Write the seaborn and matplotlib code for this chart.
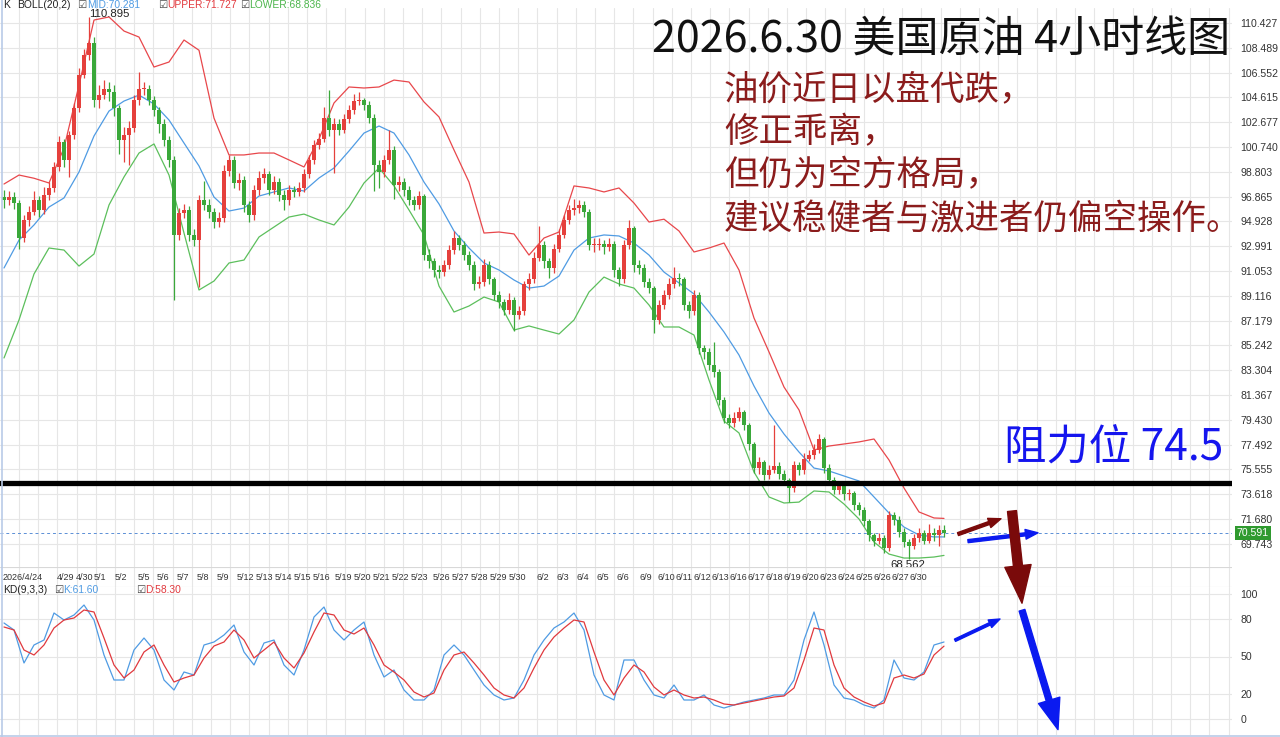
import numpy as np
import pandas as pd
import matplotlib
matplotlib.use("Agg")
import matplotlib.pyplot as plt
from matplotlib.patches import FancyArrowPatch, ArrowStyle
from matplotlib.lines import Line2D
import seaborn as sns

# ---------------- data ----------------
first_open = 96.8
closes = [
    96.6, 96.8, 96.4, 93.6, 95.0, 95.7, 96.6, 95.8, 97.0, 97.5,
    99.2, 101.1, 99.7, 101.7, 103.8, 106.4, 107.9, 108.9, 104.4, 104.8,
    105.3, 105.0, 103.8, 101.3, 101.7, 102.2, 104.4, 105.3, 105.3, 104.4,
    103.6, 102.5, 101.3, 99.7, 93.9, 95.6, 95.8, 93.9, 93.5, 96.6,
    96.2, 95.7, 94.9, 95.2, 98.9, 99.7, 97.9, 98.2, 96.2, 95.4,
    97.4, 98.3, 98.6, 97.4, 98.0, 97.0, 96.6, 97.4, 97.2, 97.5,
    98.6, 99.7, 100.9, 101.4, 103.0, 102.1, 102.5, 102.1, 102.9, 103.6,
    104.3, 104.4, 104.0, 103.0, 99.3, 98.8, 99.7, 100.5, 97.8, 98.0,
    97.4, 96.6, 96.2, 96.9, 92.3, 91.8, 91.1, 91.0, 91.5, 92.7,
    93.6, 93.1, 92.3, 91.5, 90.0, 90.2, 91.5, 90.4, 89.2, 88.6,
    88.0, 88.8, 87.6, 87.9, 90.0, 90.4, 92.1, 93.1, 91.8, 91.3,
    92.8, 93.9, 95.0, 95.8, 96.0, 96.2, 95.7, 93.1, 93.1, 93.2,
    92.9, 93.2, 91.1, 90.4, 93.1, 94.4, 91.5, 91.3, 90.2, 89.7,
    87.2, 88.4, 89.2, 90.0, 90.5, 90.4, 88.4, 87.9, 89.2, 85.0,
    84.7, 83.7, 83.2, 81.0, 79.6, 79.2, 79.6, 80.0, 79.0, 77.5,
    75.7, 76.1, 75.1, 75.5, 75.8, 75.2, 74.7, 74.1, 75.9, 75.5,
    76.4, 76.7, 77.1, 77.9, 75.7, 74.7, 73.95, 74.3, 73.6, 73.7,
    72.8, 72.4, 71.5, 70.4, 70.0, 70.2, 69.4, 72.0, 71.6, 70.7,
    69.9, 69.6, 70.2, 70.6, 70.0, 70.6, 70.4, 70.8, 70.591,
]
highs = [
    97.4, 97.3, 97.2, 96.6, 95.4, 96.1, 97.3, 96.9, 97.6, 98.0,
    99.6, 101.6, 101.4, 102.0, 104.2, 106.9, 108.4, 110.895, 109.3, 105.6,
    106.0, 105.8, 105.6, 104.0, 102.3, 102.8, 104.8, 106.6, 105.8, 105.6,
    104.7, 103.9, 102.9, 101.6, 100.0, 96.0, 96.3, 96.1, 94.3, 97.0,
    98.1, 96.7, 96.0, 95.7, 99.3, 100.1, 100.0, 98.7, 98.5, 96.5,
    97.8, 98.9, 99.1, 98.9, 98.5, 98.3, 97.4, 97.8, 97.7, 98.0,
    99.0, 100.1, 101.3, 101.8, 103.9, 105.2, 103.0, 102.9, 103.3, 104.0,
    104.9, 105.0, 104.6, 104.3, 103.3, 99.7, 100.1, 102.1, 100.8, 98.5,
    98.3, 97.7, 96.9, 97.3, 97.1, 92.8, 92.1, 91.5, 91.9, 93.1,
    94.2, 93.9, 93.4, 92.6, 91.8, 90.7, 92.0, 91.8, 90.6, 89.5,
    88.9, 89.3, 89.0, 88.3, 90.3, 90.9, 92.5, 94.6, 93.4, 92.1,
    93.2, 94.3, 95.4, 96.2, 96.7, 96.6, 96.5, 95.9, 93.6, 93.6,
    93.5, 93.6, 93.4, 91.4, 93.5, 95.0, 94.6, 91.9, 91.6, 90.5,
    89.9, 88.8, 89.6, 90.5, 91.4, 90.9, 90.6, 88.7, 89.6, 89.4,
    85.3, 85.0, 85.5, 83.4, 81.2, 79.9, 80.0, 80.4, 80.2, 79.2,
    77.7, 76.5, 76.3, 75.9, 79.0, 76.1, 75.5, 74.9, 76.2, 76.1,
    76.8, 77.1, 77.5, 78.3, 78.1, 76.0, 75.0, 74.6, 74.5, 74.0,
    73.9, 73.0, 72.6, 71.7, 70.6, 70.6, 70.4, 72.3, 72.2, 71.9,
    71.0, 70.1, 70.5, 71.0, 70.8, 71.3, 71.0, 71.2, 71.2,
]
lows = [
    96.0, 96.2, 95.9, 92.8, 93.3, 94.6, 95.4, 95.3, 95.5, 96.6,
    97.2, 98.9, 99.2, 98.4, 101.4, 103.5, 106.1, 107.5, 103.9, 103.8,
    104.5, 104.3, 103.2, 100.2, 99.6, 99.3, 101.9, 104.0, 104.8, 104.0,
    103.2, 101.8, 100.8, 99.2, 88.8, 93.5, 95.2, 93.4, 93.0, 89.8,
    95.8, 95.2, 94.4, 94.5, 94.9, 98.5, 97.5, 97.4, 95.7, 94.9,
    95.0, 97.0, 97.9, 97.0, 97.1, 96.5, 95.8, 96.2, 96.8, 96.9,
    97.2, 98.3, 99.4, 100.6, 101.1, 101.6, 98.7, 101.7, 101.8, 102.6,
    103.3, 104.0, 103.6, 102.6, 97.3, 97.5, 98.4, 99.4, 96.7, 97.3,
    96.9, 96.2, 95.8, 95.9, 91.9, 91.3, 90.6, 90.5, 90.7, 91.2,
    92.4, 92.7, 91.9, 91.1, 89.6, 89.7, 89.9, 90.0, 88.8, 88.2,
    87.6, 87.7, 86.4, 87.3, 87.6, 89.6, 90.1, 91.8, 91.3, 90.5,
    90.9, 92.5, 93.6, 94.7, 95.4, 95.6, 95.3, 92.7, 92.5, 92.7,
    92.4, 92.6, 90.6, 89.9, 90.1, 92.8, 91.0, 90.8, 89.8, 89.3,
    86.2, 86.9, 88.1, 88.9, 89.7, 89.9, 88.0, 87.4, 87.6, 84.6,
    84.2, 83.3, 82.8, 80.6, 79.2, 78.8, 78.9, 79.3, 78.6, 77.1,
    75.3, 75.2, 74.7, 74.8, 75.3, 74.8, 74.3, 73.0, 73.8, 75.1,
    75.2, 76.2, 76.4, 76.8, 75.3, 74.3, 73.6, 73.6, 73.2, 73.2,
    72.4, 72.0, 71.1, 70.0, 69.6, 69.7, 69.0, 69.2, 71.2, 70.3,
    69.5, 68.562, 69.3, 69.9, 69.7, 69.8, 70.0, 69.6, 70.3,
]

band_idx = list(range(0, 187, 3)) + [188]
upper = [97.85, 98.55, 98.3, 97.93, 100.66, 105.58, 110.66, 110.9, 109.8, 109.33,
         106.99, 107.38, 109.10, 108.3, 103.0, 100.12, 100.12, 100.27, 100.27, 99.73,
         99.18, 101.37, 104.18, 105.43, 105.35, 105.43, 105.97, 105.82, 104.26, 103.09,
         100.51, 98.0, 94.02, 94.10, 93.95, 92.30, 93.63, 94.10, 97.7, 97.54,
         97.23, 97.54, 96.36, 94.88, 95.1, 94.18, 92.54, 92.85, 93.24, 91.13,
         87.38, 84.73, 81.99, 80.2, 77.07, 77.38, 77.54, 77.7, 77.93, 76.29,
         74.1, 72.23, 71.76, 71.727]
mid = [91.29, 93.47, 94.65, 96.05, 96.76, 98.79, 101.6, 103.55, 104.33, 104.8,
       104.1, 102.85, 101.05, 99.26, 96.83, 95.74, 95.97, 96.91, 97.23, 97.54,
       97.3, 98.32, 99.1, 100.43, 101.83, 102.38, 101.83, 100.12, 98.0, 96.29,
       94.18, 92.85, 91.68, 91.13, 90.35, 89.72, 89.88, 90.66, 92.69, 93.63,
       93.87, 93.79, 93.24, 92.3, 90.97, 90.12, 89.26, 87.85, 86.29, 84.49,
       82.07, 79.96, 78.32, 76.91, 75.66, 75.43, 75.04, 74.65, 73.4, 72.15,
       71.05, 70.43, 70.28, 70.281]
lower = [84.26, 87.23, 90.82, 92.85, 92.69, 91.44, 92.38, 96.21, 98.4, 100.27,
         100.98, 98.55, 94.02, 89.57, 90.27, 91.68, 91.91, 93.71, 94.49, 95.27,
         95.5, 95.04, 94.65, 96.05, 97.93, 99.1, 97.7, 95.82, 93.87, 89.88,
         87.85, 88.32, 89.02, 88.63, 86.44, 86.76, 86.44, 86.13, 87.23, 89.41,
         90.58, 90.04, 89.72, 88.4, 86.68, 86.68, 86.05, 82.54, 79.33, 78.4,
         75.35, 73.4, 72.93, 73.0, 73.87, 73.79, 72.85, 71.68, 69.88, 68.94,
         68.63, 68.63, 68.71, 68.836]

kd_idx = list(range(0, 189, 2))
k_vals = [76.8, 71.2, 44.8, 59.2, 63.2, 84.8, 79.2, 83.2, 91.2, 79.2,
          51.2, 31.2, 31.2, 55.2, 64.8, 55.2, 31.2, 23.2, 37.6, 35.2,
          59.2, 61.6, 67.2, 75.2, 53.6, 43.2, 60.8, 63.2, 43.2, 35.2,
          55.2, 81.6, 89.6, 71.2, 63.2, 71.2, 77.6, 51.2, 33.6, 39.2,
          23.2, 15.2, 15.2, 23.2, 51.2, 59.2, 51.2, 39.2, 27.2, 19.2,
          15.2, 16.8, 31.2, 51.2, 63.2, 72.8, 77.6, 84.8, 71.2, 35.2,
          19.2, 15.2, 47.2, 47.2, 31.2, 19.2, 16.8, 27.2, 15.2, 15.2,
          19.2, 11.2, 8.8, 11.2, 13.6, 15.2, 16.8, 19.2, 19.2, 31.2,
          63.2, 85.6, 59.2, 27.2, 16.8, 15.2, 11.2, 8.8, 15.2, 47.2,
          32.8, 31.2, 37.6, 59.2, 61.6]
d_vals = [73.6, 71.2, 55.2, 51.2, 59.2, 72.8, 79.2, 80.8, 87.2, 85.6,
          64.8, 43.2, 32.8, 39.2, 53.6, 59.2, 43.2, 29.6, 32.8, 35.2,
          48.8, 58.4, 61.6, 71.2, 63.2, 48.8, 55.2, 61.6, 48.8, 40.8,
          52.8, 69.6, 84.8, 83.2, 71.2, 68.0, 72.8, 59.2, 43.2, 37.6,
          31.2, 21.6, 17.6, 20.8, 39.2, 51.2, 53.6, 44.8, 35.2, 24.8,
          19.2, 16.8, 24.8, 40.8, 55.2, 65.6, 72.8, 79.2, 77.6, 53.6,
          31.2, 19.2, 32.8, 43.2, 37.6, 25.6, 19.2, 23.2, 19.2, 16.8,
          17.6, 15.2, 12.0, 11.2, 12.8, 14.4, 16.0, 17.6, 18.4, 24.8,
          47.2, 72.8, 71.2, 43.2, 24.8, 17.6, 13.6, 10.4, 12.8, 32.8,
          35.2, 32.8, 36.0, 51.2, 58.3]

price_ticks = [110.427, 108.489, 106.552, 104.615, 102.677, 100.740, 98.803, 96.865,
               94.928, 92.991, 91.053, 89.116, 87.179, 85.242, 83.304, 81.367,
               79.430, 77.492, 75.555, 73.618, 71.680, 69.743]
kd_ticks = [100, 80, 50, 20, 0]

date_labels = ["2026/4/24", "4/29", "4/30", "5/1", "5/2", "5/5", "5/6", "5/7", "5/8", "5/9",
               "5/12", "5/13", "5/14", "5/15", "5/16", "5/19", "5/20", "5/21", "5/22", "5/23",
               "5/26", "5/27", "5/28", "5/29", "5/30", "6/2", "6/3", "6/4", "6/5", "6/6",
               "6/9", "6/10", "6/11", "6/12", "6/13", "6/16", "6/17", "6/18", "6/19", "6/20",
               "6/23", "6/24", "6/25", "6/26", "6/27", "6/30"]
date_pos = [-0.2, 10.6, 14.4, 18.0, 22.2, 26.8, 30.6, 34.6, 38.6, 42.6,
            46.6, 50.4, 54.2, 58.0, 61.8, 66.2, 70.0, 73.8, 77.6, 81.4,
            85.8, 89.6, 93.4, 97.2, 101.0, 106.6, 110.6, 114.6, 118.6, 122.6,
            127.1, 130.7, 134.3, 137.9, 141.5, 145.1, 148.7, 152.3, 155.9, 159.5,
            163.1, 166.7, 170.3, 173.9, 177.5, 181.1]

resistance = 74.5
last_price = 70.591
peak_label, low_label = "110.895", "68.562"

# ---------------- styling ----------------
sns.set_theme(style="white")
plt.rcParams['font.family'] = ['Liberation Sans', 'DejaVu Sans']
CJK = ['Noto Sans CJK SC', 'DejaVu Sans']
UP, DN = '#e5403c', '#3aa83a'
C_UP, C_MID, C_LOW = '#e8474b', '#4f9be3', '#5cbf5c'
GRID = '#e6e6e6'
TXT = '#333333'

W, H = 1280, 737
fig = plt.figure(figsize=(W / 100, H / 100), dpi=100)
fig.patch.set_facecolor('white')


def rect(x0, y0, x1, y1):
    return [x0 / W, 1 - y1 / H, (x1 - x0) / W, (y1 - y0) / H]


ax1 = fig.add_axes(rect(0, 8, 1232, 567))
axd = fig.add_axes(rect(0, 567, 1232, 587))
ax2 = fig.add_axes(rect(0, 587, 1232, 735))

XL = (-0.8, 245.6)
grid_x = np.arange(3.0, XL[1], 3.84)
for a in (ax1, axd, ax2):
    a.set_xlim(*XL)
    a.set_facecolor('white')
    a.set_xticks(grid_x)
    a.tick_params(axis='x', length=0, labelbottom=False)
    a.grid(axis='x', color=GRID, lw=0.8)
    for s in a.spines.values():
        s.set_visible(False)

# ---- candles ----
N = len(closes)
idx = np.arange(N)
opens = [first_open] + closes[:-1]
df = pd.DataFrame({'idx': idx, 'open': opens, 'close': closes, 'high': highs, 'low': lows})
df['up'] = df['close'] >= df['open']
df['color'] = np.where(df['up'], UP, DN)
df['bottom'] = df[['open', 'close']].min(axis=1)
df['height'] = (df['close'] - df['open']).abs().clip(lower=0.06)

ax1.set_ylim(67.93, 111.60)
ax1.set_yticks(price_ticks)
ax1.set_yticklabels([f"{v:.3f}" for v in price_ticks])
ax1.yaxis.tick_right()
ax1.tick_params(axis='y', length=0, pad=6, labelsize=7.6, labelcolor=TXT)
ax1.grid(axis='y', color=GRID, lw=0.8)

ax1.axhline(last_price, color='#5b8fd6', lw=0.7, ls=(0, (3, 3)), zorder=1)
ax1.vlines(df['idx'], df['low'], df['high'], colors=df['color'], lw=0.9, zorder=3)
ax1.bar(df['idx'], df['height'], bottom=df['bottom'], width=0.62, color=df['color'],
        linewidth=0, zorder=4)

bands = pd.DataFrame({'idx': band_idx, 'upper': upper, 'mid': mid, 'lower': lower})
sns.lineplot(data=bands, x='idx', y='upper', ax=ax1, color=C_UP, lw=0.9, zorder=2)
sns.lineplot(data=bands, x='idx', y='mid', ax=ax1, color=C_MID, lw=0.9, zorder=2)
sns.lineplot(data=bands, x='idx', y='lower', ax=ax1, color=C_LOW, lw=0.9, zorder=2)
ax1.set_xlabel('')
ax1.set_ylabel('')
ax1.set_xlim(*XL)
ax1.set_ylim(67.93, 111.60)

ax1.axhline(resistance, color='black', lw=3.8, zorder=6)

# peak / low labels
i_hi = int(np.argmax(highs))
i_lo = int(np.argmin(lows))
ax1.annotate(peak_label, (i_hi, highs[i_hi]), xytext=(0, -1.5), textcoords='offset points',
             ha='left', va='bottom', fontsize=8.2, color='#222222', zorder=8)
ax1.annotate(low_label, (i_lo, lows[i_lo]), xytext=(-1, -1), textcoords='offset points',
             ha='center', va='top', fontsize=8.2, color='#222222')

# last price tag
ax1.text(1.004, last_price, f"{last_price:.3f}", transform=ax1.get_yaxis_transform(),
         ha='left', va='center', fontsize=7.6, color='white', zorder=10, clip_on=False,
         bbox=dict(boxstyle='square,pad=0.18', fc='#2f9a2f', ec='none'))

# ---- date strip ----
axd.set_ylim(0, 1)
axd.set_yticks([])
axd.axhline(1, color='#d8d8d8', lw=0.8)
axd.axhline(0, color='#d8d8d8', lw=0.8)
for lab, p in zip(date_labels, date_pos):
    axd.text(p, 0.5, lab, ha='left', va='center', fontsize=6.5, color=TXT)

# ---- KD panel ----
kd = pd.DataFrame({'idx': kd_idx, 'K': k_vals, 'D': d_vals})
sns.lineplot(data=kd, x='idx', y='K', ax=ax2, color=C_MID, lw=0.9)
sns.lineplot(data=kd, x='idx', y='D', ax=ax2, color='#e0393e', lw=0.9)
ax2.set_xlabel('')
ax2.set_ylabel('')
ax2.set_xlim(*XL)
ax2.set_ylim(-12.8, 105.6)
ax2.set_yticks(kd_ticks)
ax2.set_yticklabels([str(v) for v in kd_ticks])
ax2.yaxis.tick_right()
ax2.tick_params(axis='y', length=0, pad=6, labelsize=7.6, labelcolor=TXT)
ax2.grid(axis='y', color=GRID, lw=0.8)

# ---- borders ----
fig.add_artist(Line2D([1.5 / W, 1.5 / W], [0, 1], color='#b9cbe8', lw=1.2))
fig.add_artist(Line2D([0, 1], [1 - 735.5 / H, 1 - 735.5 / H], color='#b9cbe8', lw=1.2))


# ---- header texts ----
def ftext(x, y, s, **kw):
    fig.text(x / W, 1 - y / H, s, va='center', ha='left', **kw)


HS = 7.4
ftext(3, 5, "K", fontsize=HS, color='#222222')
ftext(17, 5, "BOLL(20,2)", fontsize=HS, color='#222222')
ftext(77, 5, "\u2611", fontsize=HS, color='#444444', family=['DejaVu Sans'])
ftext(87, 5, "MID:70.281", fontsize=HS, color='#4f9be3')
ftext(158, 5, "\u2611", fontsize=HS, color='#444444', family=['DejaVu Sans'])
ftext(167, 5, "UPPER:71.727", fontsize=HS, color='#e23a3f')
ftext(240, 5, "\u2611", fontsize=HS, color='#444444', family=['DejaVu Sans'])
ftext(249, 5, "LOWER:68.836", fontsize=HS, color='#4cb54c')

ftext(3, 590, "KD(9,3,3)", fontsize=HS, color='#222222')
ftext(54, 590, "\u2611", fontsize=HS, color='#444444', family=['DejaVu Sans'])
ftext(63, 590, "K:61.60", fontsize=HS, color='#4f9be3')
ftext(136, 590, "\u2611", fontsize=HS, color='#444444', family=['DejaVu Sans'])
ftext(145, 590, "D:58.30", fontsize=HS, color='#e23a3f')

# ---- titles / commentary ----
ftext(652, 40, "2026.6.30 美国原油 4小时线图", fontsize=31, color='#111111', family=CJK,
      fontweight='light')
DR = '#8b1c1c'
for yy, s in zip([90, 133, 176, 220],
                 ["油价近日以盘代跌，", "修正乖离，", "但仍为空方格局，", "建议稳健者与激进者仍偏空操作。"]):
    ftext(724, yy, s, fontsize=24.8, color=DR, family=CJK)
ftext(1004, 448, "阻力位 74.5", fontsize=30.5, color='#1515ee', family=CJK)


# ---- arrows (figure-level so they sit above every panel) ----
def arrow(ax, p0, p1, color, tail, head_w, head_l):
    st = ArrowStyle.Simple(head_length=head_l, head_width=head_w, tail_width=tail)
    a = FancyArrowPatch(p0, p1, arrowstyle=st, color=color, mutation_scale=1,
                        shrinkA=0, shrinkB=0, transform=ax.transData, zorder=20)
    fig.add_artist(a)


DARK = '#7a0a0a'
BLUE = '#0a1af0'
arrow(ax1, (190.8, 70.5), (199.4, 71.7), DARK, 2.2, 7, 9)
arrow(ax1, (192.8, 69.95), (206.8, 70.6), BLUE, 2.2, 7, 9)
arrow(ax1, (201.6, 72.3), (203.6, 65.1), DARK, 6.5, 19, 27)
arrow(ax2, (190.2, 63.0), (199.2, 80.0), BLUE, 1.8, 6, 8)
arrow(ax2, (203.6, 87.0), (210.8, -8.5), BLUE, 4.3, 16, 22)

fig.savefig("out.png", dpi=100, facecolor='white')
